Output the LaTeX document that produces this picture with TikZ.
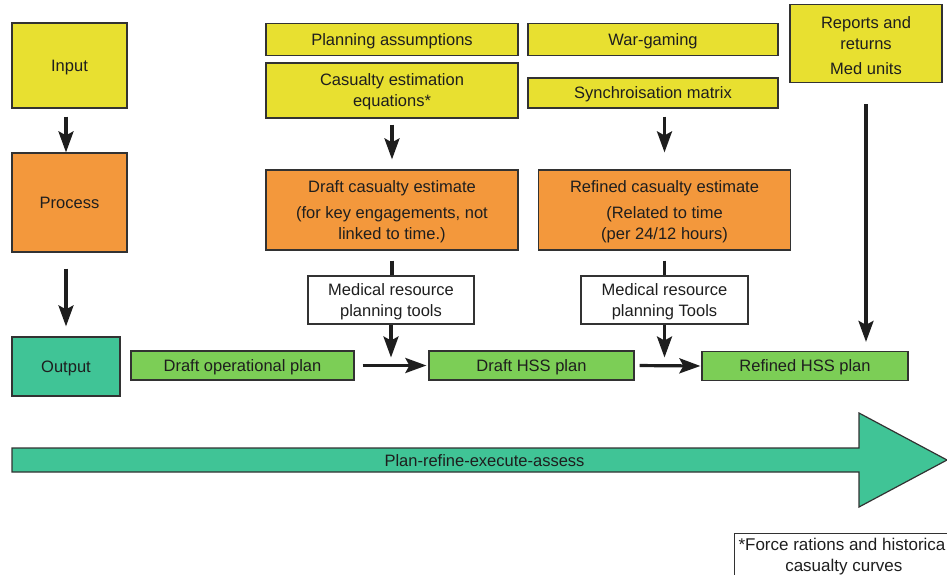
\documentclass[tikz,border=0pt]{standalone}
\usepackage{fontspec}
\setmainfont{Liberation Sans}
\usetikzlibrary{arrows.meta}

\definecolor{boxyellow}{RGB}{232,224,48}
\definecolor{boxorange}{RGB}{243,152,60}
\definecolor{boxgreen}{RGB}{124,206,86}
\definecolor{boxteal}{RGB}{64,196,150}
\definecolor{edge}{RGB}{50,50,50}
\definecolor{ink}{RGB}{30,30,30}

\tikzset{
  box/.style={draw=edge, line width=1.2pt, inner sep=0pt, align=center,
    text=ink, text depth=0pt, font=\fontsize{16.5}{21}\selectfont},
  ybox/.style={box, fill=boxyellow},
  obox/.style={box, fill=boxorange},
  gbox/.style={box, fill=boxgreen},
  tbox/.style={box, fill=boxteal},
  wbox/.style={box, fill=white},
  arr/.style={draw=ink, line width=3.2pt,
    -{Stealth[length=21pt, width=15pt, inset=4pt]}},
  link/.style={draw=ink, line width=3.2pt},
}

\begin{document}
\begin{tikzpicture}[x=1pt, y=-1pt]
\useasboundingbox (0,0) rectangle (947,575);
\clip (0,0) rectangle (947,575);

% stage column on the left
\node[ybox, minimum width=115pt, minimum height=85pt] (in)   at (69.5,65.5)  {Input};
\node[obox, minimum width=115pt, minimum height=99pt] (proc) at (69.5,202.5) {Process};
\node[tbox, minimum width=108pt, minimum height=59pt] (out)  at (66,366.5)   {Output};

% inputs
\node[ybox, minimum width=252pt, minimum height=32pt] (pa)  at (392,39.5) {Planning assumptions};
\node[ybox, minimum width=252pt, minimum height=55pt] (ce)  at (392,90.5) {Casualty estimation\\equations*};
\node[ybox, minimum width=250pt, minimum height=32pt] (wg)  at (653,39.5) {War-gaming};
\node[ybox, minimum width=250pt, minimum height=30pt] (sm)  at (653,93)   {Synchroisation matrix};
\node[ybox, minimum width=152pt, minimum height=78pt] (rep) at (866,43.5)
  {\rule{0pt}{16pt}Reports and\\returns\\[4pt]Med units};

% processes
\node[obox, minimum width=252pt, minimum height=80pt] (dce) at (392,210)
  {Draft casualty estimate\\[5pt](for key engagements, not\\linked to time.)};
\node[obox, minimum width=252pt, minimum height=80pt] (rce) at (664.5,210)
  {Refined casualty estimate\\[5pt](Related to time\\(per 24/12 hours)};

% planning tools
\node[wbox, minimum width=166pt, minimum height=48pt] (mrp1) at (391,300)   {Medical resource\\planning tools};
\node[wbox, minimum width=167pt, minimum height=48pt] (mrp2) at (664.5,300) {Medical resource\\planning Tools};

% outputs
\node[gbox, minimum width=223pt, minimum height=29pt] (dop)  at (242.5,365.5) {Draft operational plan};
\node[gbox, minimum width=205pt, minimum height=29pt] (dhss) at (531.5,365.5) {Draft HSS plan};
\node[gbox, minimum width=206pt, minimum height=29pt] (rhss) at (805,366)     {Refined HSS plan};

% junctions on the plan-to-plan arrows
\coordinate (j1) at (mrp1.south |- dop.east);
\coordinate (j2) at (mrp2.south |- dhss.east);

% connectors
\draw[arr, shorten <=8pt] (in.south -| out.north) -- (proc.north -| out.north);
\draw[arr, shorten <=16pt, shorten >=10pt] (proc.south -| out.north) -- (out.north);
\draw[arr, shorten <=6pt, shorten >=10pt] (ce) -- (dce);
\draw[arr, shorten <=8pt, shorten >=17pt] (rce.north |- sm.south) -- (rce.north);
\draw[link, shorten <=10pt] (dce.south) -- (mrp1.north -| dce.south);
\draw[link, shorten <=10pt] (rce.south) -- (mrp2.north);
\draw[arr, shorten >=8pt] (mrp1.south) -- (j1);
\draw[arr, shorten >=8pt] (mrp2.south) -- (j2);
\draw[arr, shorten <=8pt, shorten >=2pt] (dop.east) -- (dhss.west);
\draw[arr, shorten <=5pt, shorten >=1pt] (dhss.east) -- (rhss.west);
\draw[arr, shorten <=21pt, shorten >=9pt] (rep.south) -- (rep.south |- rhss.north);

% plan-refine-execute-assess cycle arrow
\draw[draw=edge, line width=1.2pt, fill=boxteal]
  (12,448) -- (859,448) -- (859,413) -- (947,460) -- (859,507) -- (859,472) -- (12,472) -- cycle;
\node[text=ink, font=\fontsize{16.5}{21}\selectfont] (cycle) at (484.5,461) {Plan-refine-execute-assess};

% footnote box, running past the page edge
\node[draw=edge, line width=1pt, fill=white, anchor=north west, inner xsep=4pt, inner ysep=5pt,
  align=center, text=ink, font=\fontsize{17}{20.5}\selectfont] (note) at (734,533)
  {*Force rations and historica\hphantom{l}\\casualty curves};
\end{tikzpicture}
\end{document}
